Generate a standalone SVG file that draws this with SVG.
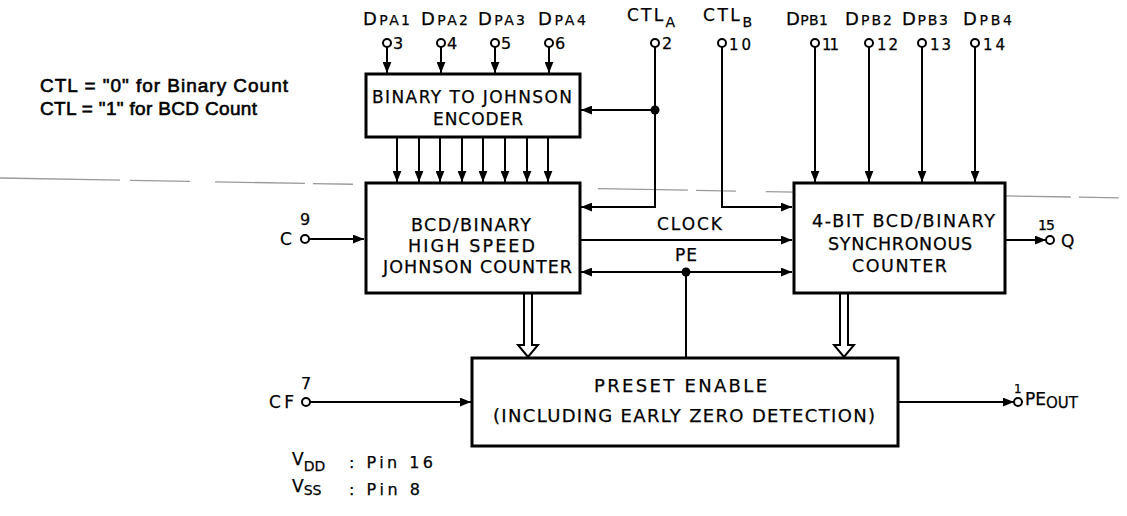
<svg xmlns="http://www.w3.org/2000/svg" width="1127" height="516" viewBox="0 0 1127 516">
<style>
.box{fill:#fff;stroke:#000;stroke-width:3}
.ln{fill:none;stroke:#000;stroke-width:2}
.pin{fill:#fff;stroke:#000;stroke-width:2}
.t{font-family:"DejaVu Sans","Liberation Sans",sans-serif;fill:#000;stroke:#000;stroke-width:0.25}
.n{font-family:"Liberation Sans","DejaVu Sans",sans-serif;fill:#000;stroke:#000;stroke-width:0.6}
.hol{fill:#fff;stroke:#000;stroke-width:2;stroke-linejoin:miter}
.scan{fill:none;stroke:#9a9a9a;stroke-width:1.3;stroke-dasharray:120 10 60 25 90 8 40 30}
</style>
<defs>
<marker id="ah" viewBox="0 0 10 8" refX="10" refY="4" markerWidth="11" markerHeight="9" markerUnits="userSpaceOnUse" orient="auto-start-reverse"><path d="M0,0 L10,4 L0,8 z" fill="#000"/></marker>
</defs>
<rect width="1127" height="516" fill="#fff"/>
<path class="scan" d="M0,178 L1127,198"/>

<g id="notes">
<text class="n" x="40" y="92" font-size="19" textLength="248">CTL = "0" for Binary Count</text>
<text class="n" x="40" y="115" font-size="19" textLength="217">CTL = "1" for BCD Count</text>
<text class="t" x="292" y="465" font-size="17">V<tspan font-size="14" dy="6">DD</tspan></text>
<text class="t" x="349" y="468" font-size="16" textLength="84">: Pin 16</text>
<text class="t" x="292" y="492" font-size="17">V<tspan font-size="14" dy="3">SS</tspan></text>
<text class="t" x="349" y="495" font-size="16" textLength="71">: Pin 8</text>
</g>

<g id="connectors">
<line class="ln" x1="387" y1="47" x2="387" y2="73" marker-end="url(#ah)"/>
<line class="ln" x1="441" y1="47" x2="441" y2="73" marker-end="url(#ah)"/>
<line class="ln" x1="495" y1="47" x2="495" y2="73" marker-end="url(#ah)"/>
<line class="ln" x1="549" y1="47" x2="549" y2="73" marker-end="url(#ah)"/>
<line class="ln" x1="815" y1="47" x2="815" y2="182" marker-end="url(#ah)"/>
<line class="ln" x1="869" y1="47" x2="869" y2="182" marker-end="url(#ah)"/>
<line class="ln" x1="922" y1="47" x2="922" y2="182" marker-end="url(#ah)"/>
<line class="ln" x1="975" y1="47" x2="975" y2="182" marker-end="url(#ah)"/>
<g style="stroke-width:2.5">
<line class="ln" x1="397" y1="137" x2="397" y2="182" marker-end="url(#ah)"/>
<line class="ln" x1="419" y1="137" x2="419" y2="182" marker-end="url(#ah)"/>
<line class="ln" x1="440" y1="137" x2="440" y2="182" marker-end="url(#ah)"/>
<line class="ln" x1="462" y1="137" x2="462" y2="182" marker-end="url(#ah)"/>
<line class="ln" x1="483" y1="137" x2="483" y2="182" marker-end="url(#ah)"/>
<line class="ln" x1="505" y1="137" x2="505" y2="182" marker-end="url(#ah)"/>
<line class="ln" x1="527" y1="137" x2="527" y2="182" marker-end="url(#ah)"/>
<line class="ln" x1="548" y1="137" x2="548" y2="182" marker-end="url(#ah)"/>
</g>
<polyline class="ln" points="655,47 655,207 581,207" marker-end="url(#ah)"/>
<line class="ln" x1="655" y1="110" x2="581" y2="110" marker-end="url(#ah)"/>
<circle cx="655" cy="110" r="4.5" fill="#000"/>
<polyline class="ln" points="722,47 722,207 792,207" marker-end="url(#ah)"/>
<line class="ln" x1="580" y1="240" x2="792" y2="240" marker-end="url(#ah)"/>
<line class="ln" x1="581" y1="272" x2="792" y2="272" marker-start="url(#ah)" marker-end="url(#ah)"/>
<line class="ln" x1="686" y1="272" x2="686" y2="358"/>
<circle cx="686" cy="272" r="4.5" fill="#000"/>
<line class="ln" x1="309" y1="239" x2="364" y2="239" marker-end="url(#ah)"/>
<line class="ln" x1="1006" y1="240" x2="1046" y2="240" marker-end="url(#ah)"/>
<line class="ln" x1="310" y1="402" x2="471" y2="402" marker-end="url(#ah)"/>
<line class="ln" x1="899" y1="402" x2="1014" y2="402" marker-end="url(#ah)"/>
<path class="hol" d="M524,294 V345 H518 L528,357 L538,345 H532 V294"/>
<path class="hol" d="M840,294 V345 H834 L844,357 L854,345 H848 V294"/>
</g>

<g id="encoder">
<rect class="box" x="366" y="74" width="214" height="63"/>
<text class="t" x="372" y="103" font-size="17" textLength="200">BINARY TO JOHNSON</text>
<text class="t" x="433" y="125" font-size="17" textLength="90">ENCODER</text>
</g>

<g id="johnson">
<rect class="box" x="366" y="183" width="214" height="110"/>
<text class="t" x="411" y="231" font-size="17.5" textLength="120">BCD/BINARY</text>
<text class="t" x="408" y="252" font-size="17.5" textLength="127">HIGH SPEED</text>
<text class="t" x="383" y="273" font-size="17.5" textLength="189">JOHNSON COUNTER</text>
</g>

<g id="sync">
<rect class="box" x="794" y="183" width="211" height="110"/>
<text class="t" x="812" y="227" font-size="17.5" textLength="183">4-BIT BCD/BINARY</text>
<text class="t" x="828" y="250" font-size="17.5" textLength="144">SYNCHRONOUS</text>
<text class="t" x="852" y="272" font-size="17.5" textLength="95">COUNTER</text>
</g>

<g id="preset">
<rect class="box" x="472" y="358" width="426" height="88"/>
<text class="t" x="594" y="392" font-size="18" textLength="173">PRESET ENABLE</text>
<text class="t" x="493" y="422" font-size="18" textLength="382">(INCLUDING EARLY ZERO DETECTION)</text>
</g>

<g id="labels">
<text class="t" x="657" y="230" font-size="17" textLength="65">CLOCK</text>
<text class="t" x="675" y="261" font-size="17" textLength="22">PE</text>
</g>

<g id="pins">
<g id="pin3"><circle class="pin" cx="387" cy="43" r="4"/><text class="t" x="363" y="25" font-size="18" textLength="47">D<tspan font-size="14">PA1</tspan></text><text class="t" x="393" y="49" font-size="16">3</text></g>
<g id="pin4"><circle class="pin" cx="441" cy="43" r="4"/><text class="t" x="421" y="25" font-size="18" textLength="47">D<tspan font-size="14">PA2</tspan></text><text class="t" x="447" y="49" font-size="16">4</text></g>
<g id="pin5"><circle class="pin" cx="495" cy="43" r="4"/><text class="t" x="478" y="25" font-size="18" textLength="47">D<tspan font-size="14">PA3</tspan></text><text class="t" x="501" y="49" font-size="16">5</text></g>
<g id="pin6"><circle class="pin" cx="549" cy="43" r="4"/><text class="t" x="538" y="25" font-size="18" textLength="48">D<tspan font-size="14">PA4</tspan></text><text class="t" x="555" y="49" font-size="16">6</text></g>
<g id="pin2"><circle class="pin" cx="655" cy="43" r="4"/><text class="t" x="627" y="21" font-size="17" textLength="48">CTL<tspan font-size="14" dy="6">A</tspan></text><text class="t" x="662" y="49" font-size="16">2</text></g>
<g id="pin10"><circle class="pin" cx="722" cy="43" r="4"/><text class="t" x="703" y="21" font-size="17" textLength="49">CTL<tspan font-size="14" dy="6">B</tspan></text><text class="t" x="729" y="50" font-size="15" textLength="22">10</text></g>
<g id="pin11"><circle class="pin" cx="815" cy="43" r="4"/><text class="t" x="786" y="25" font-size="18" textLength="42">D<tspan font-size="14">PB1</tspan></text><text class="t" x="822" y="50" font-size="15" textLength="17">11</text></g>
<g id="pin12"><circle class="pin" cx="869" cy="43" r="4"/><text class="t" x="845" y="25" font-size="18" textLength="47">D<tspan font-size="14">PB2</tspan></text><text class="t" x="877" y="50" font-size="15" textLength="21">12</text></g>
<g id="pin13"><circle class="pin" cx="922" cy="43" r="4"/><text class="t" x="902" y="25" font-size="18" textLength="46">D<tspan font-size="14">PB3</tspan></text><text class="t" x="930" y="50" font-size="15" textLength="21">13</text></g>
<g id="pin14"><circle class="pin" cx="975" cy="43" r="4"/><text class="t" x="963" y="25" font-size="18" textLength="49">D<tspan font-size="14">PB4</tspan></text><text class="t" x="983" y="50" font-size="15" textLength="22">14</text></g>
<g id="pin9"><circle class="pin" cx="305" cy="239" r="4"/><text class="t" x="300" y="225" font-size="16">9</text><text class="t" x="280" y="245" font-size="17">C</text></g>
<g id="pin7"><circle class="pin" cx="306" cy="402" r="4"/><text class="t" x="301" y="389" font-size="16">7</text><text class="t" x="269" y="408" font-size="17" textLength="25">CF</text></g>
<g id="pin15"><circle class="pin" cx="1050" cy="240" r="4"/><text class="t" x="1038" y="230" font-size="14" textLength="17">15</text><text class="t" x="1061" y="247" font-size="17">Q</text></g>
<g id="pin1"><circle class="pin" cx="1018" cy="402" r="4"/><text class="t" x="1014" y="393" font-size="12">1</text><text class="t" x="1025" y="405" font-size="17">PE<tspan font-size="15" dy="3">OUT</tspan></text></g>
</g>
</svg>
